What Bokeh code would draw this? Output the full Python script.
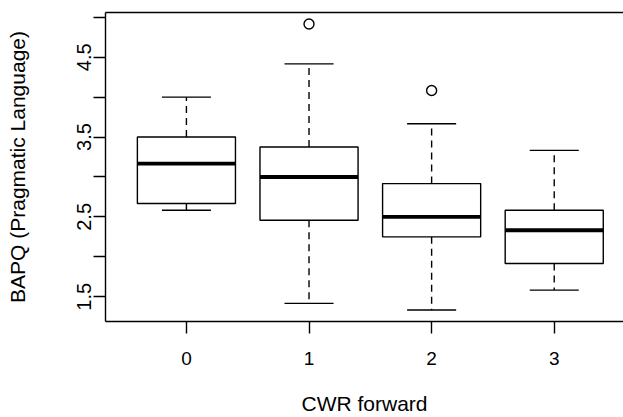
from bokeh.plotting import figure
from bokeh.models import FixedTicker, LinearAxis, Range1d, ColumnDataSource
from bokeh.embed import file_html
from bokeh.resources import INLINE

# ---- data ----
groups = [0, 1, 2, 3]
whisker_low = [2.583, 1.417, 1.333, 1.583]
q1 = [2.667, 2.458, 2.250, 1.917]
median = [3.167, 3.000, 2.500, 2.333]
q3 = [3.500, 3.375, 2.917, 2.583]
whisker_high = [4.000, 4.417, 3.667, 3.333]
outlier_x = [1, 2]
outlier_y = [4.917, 4.083]
x_tick_labels = ["0", "1", "2", "3"]
y_ticks = [1.5, 2.0, 2.5, 3.0, 3.5, 4.0, 4.5, 5.0]
y_labelled = [1.5, 2.5, 3.5, 4.5]
x_title = "CWR forward"
y_title = "BAPQ (Pragmatic Language)"

FONT = "Liberation Sans"
LW = 1.4

lo = min(whisker_low + outlier_y)
hi = max(whisker_high + outlier_y)
pad = 0.04 * (hi - lo)

p = figure(width=623, height=417, output_backend="svg", toolbar_location=None,
           x_range=Range1d(-0.66, 3.565), y_range=Range1d(lo - pad, hi + pad),
           min_border_left=105, min_border_right=0, min_border_top=12, min_border_bottom=96,
           x_axis_label=x_title, y_axis_label=y_title)
p.grid.visible = False
p.outline_line_color = None
p.background_fill_color = "white"
p.border_fill_color = "white"

half = 0.4
cap = 0.2
src = ColumnDataSource(dict(
    x=groups, q1=q1, q3=q3, med=median, lo=whisker_low, hi=whisker_high,
    xl=[g - half for g in groups], xr=[g + half for g in groups],
    cl=[g - cap for g in groups], cr=[g + cap for g in groups],
))

# whiskers (dashed)
p.segment(x0="x", y0="q3", x1="x", y1="hi", source=src, line_color="black",
          line_width=LW, line_dash="7 5")
p.segment(x0="x", y0="q1", x1="x", y1="lo", source=src, line_color="black",
          line_width=LW, line_dash="7 5")
# staples
p.segment(x0="cl", y0="hi", x1="cr", y1="hi", source=src, line_color="black", line_width=LW)
p.segment(x0="cl", y0="lo", x1="cr", y1="lo", source=src, line_color="black", line_width=LW)
# boxes
p.quad(left="xl", right="xr", bottom="q1", top="q3", source=src,
       fill_color="white", line_color="black", line_width=LW)
# medians
p.segment(x0="xl", y0="med", x1="xr", y1="med", source=src, line_color="black",
          line_width=3.8, line_cap="butt")
# outliers
p.scatter(outlier_x, outlier_y, marker="circle", size=10, fill_color=None,
          line_color="black", line_width=LW)

# x axis
xa = p.xaxis[0]
xa.ticker = FixedTicker(ticks=groups)
xa.major_label_overrides = {g: l for g, l in zip(groups, x_tick_labels)}
# y axis
ya = p.yaxis[0]
ya.ticker = FixedTicker(ticks=y_ticks)
ya.major_label_overrides = {t: (f"{t:.1f}" if t in y_labelled else "") for t in y_ticks}
ya.major_label_orientation = "vertical"

for ax in (xa, ya):
    ax.axis_line_color = "black"
    ax.axis_line_width = LW
    ax.major_tick_line_color = "black"
    ax.major_tick_line_width = LW
    ax.major_tick_in = 0
    ax.major_tick_out = 12
    ax.minor_tick_line_color = None
    ax.major_label_text_font = FONT
    ax.major_label_text_color = "black"
    ax.axis_label_text_font = FONT
    ax.axis_label_text_font_size = "21px"
    ax.axis_label_text_font_style = "normal"
    ax.axis_label_text_color = "black"

xa.major_label_text_font_size = "19px"
ya.major_label_text_font_size = "20px"
xa.major_label_standoff = 18
xa.axis_label_standoff = 24
ya.major_label_standoff = 2
ya.axis_label_standoff = 46

# top border line of the box
top = LinearAxis(ticker=FixedTicker(ticks=[]), major_tick_in=0, major_tick_out=0,
                 minor_tick_in=0, minor_tick_out=0, axis_line_color="black",
                 axis_line_width=LW, major_label_text_font_size="0px",
                 major_label_standoff=0)
p.add_layout(top, "above")

open("out.html", "w").write(file_html(p, INLINE))
